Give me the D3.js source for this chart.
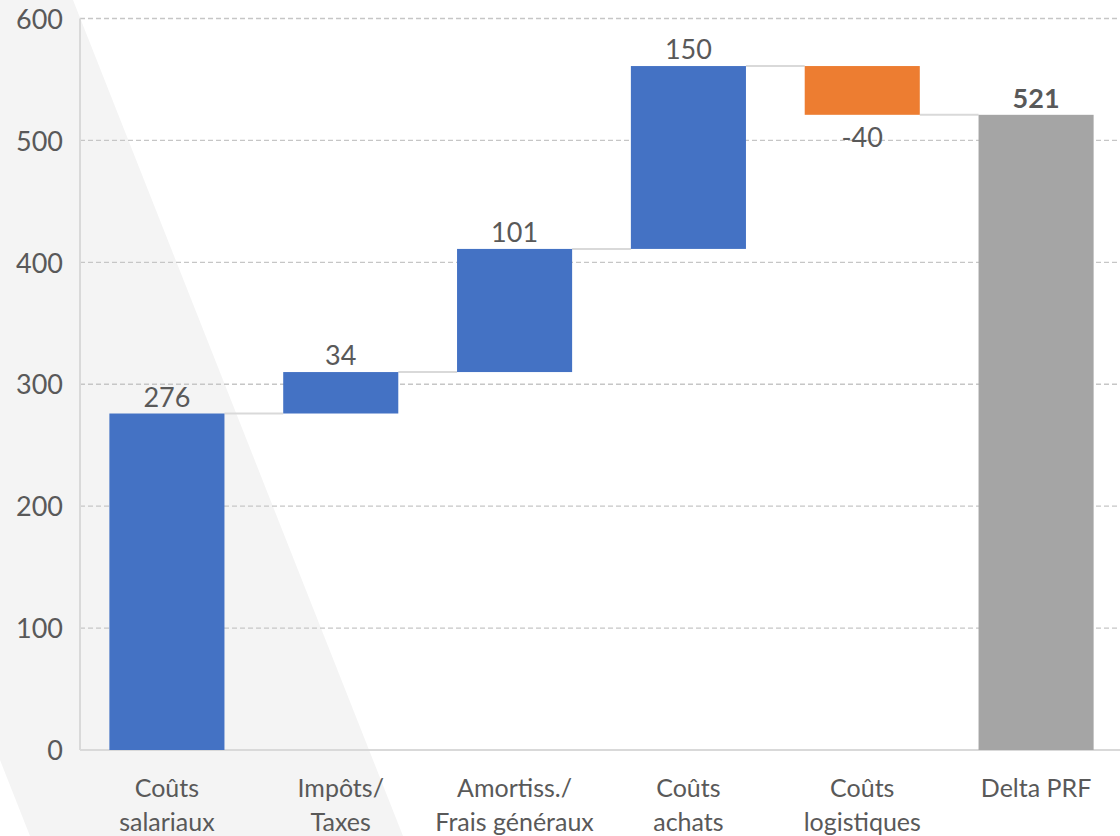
<!DOCTYPE html>
<html><head><meta charset="utf-8">
<script src="https://cdn.jsdelivr.net/npm/d3@7"></script>
<style>html,body{margin:0;padding:0;background:#fff;}svg{display:block;}</style>
</head><body>
<svg id="chart" width="1120" height="836"></svg>
<script>
const categories = ["Coûts\nsalariaux", "Impôts/\nTaxes", "Amortiss./\nFrais généraux", "Coûts\nachats", "Coûts\nlogistiques", "Delta PRF"];
const values = [276, 34, 101, 150, -40, 521];
const kinds = ["delta", "delta", "delta", "delta", "delta", "total"];
const yTicks = [0, 100, 200, 300, 400, 500, 600];

const W = 1120, H = 836;
const svg = d3.select("#chart");
const font = "Lato, 'Open Sans', sans-serif";
const textColor = "#595959";

// background diagonal band
svg.append("polygon")
  .attr("points", [[0,0],[73,0],[403,H],[30,H],[0,760]].map(p => p.join(",")).join(" "))
  .attr("fill", "#f4f4f4");

const x = d3.scaleBand().domain(categories).range([80, 1123]).paddingInner(0.338).paddingOuter(0.169);
const y = d3.scaleLinear().domain([0, 600]).range([750, 18.5]);

// compute waterfall
let run = 0;
const bars = categories.map((c, i) => {
  let start, end;
  if (kinds[i] === "total") { start = 0; end = values[i]; run = values[i]; }
  else { start = run; end = run + values[i]; run = end; }
  return {cat: c, v: values[i], start, end, kind: kinds[i]};
});

// gridlines
const g = svg.append("g");
g.selectAll("line.grid").data(yTicks.filter(t => t > 0)).enter().append("line")
  .attr("x1", 80).attr("x2", W).attr("y1", d => y(d)).attr("y2", d => y(d))
  .attr("stroke", "#c6c6c6").attr("stroke-width", 1.3).attr("stroke-dasharray", "5,3");

// axes lines
svg.append("line").attr("x1", 80).attr("x2", W).attr("y1", y(0)).attr("y2", y(0))
  .attr("stroke", "#d9d9d9").attr("stroke-width", 2);
svg.append("line").attr("x1", 80).attr("x2", 80).attr("y1", y(600)).attr("y2", y(0))
  .attr("stroke", "#d9d9d9").attr("stroke-width", 2);

// y tick labels
const yAxis = d3.axisLeft(y).tickValues(yTicks).tickSize(0).tickPadding(17);
const ya = svg.append("g").attr("transform", "translate(80,0)").call(yAxis);
ya.select(".domain").remove();
ya.selectAll("text").attr("font-family", font).attr("font-size", 27).attr("fill", textColor).attr("dy", "0.36em");

// connectors
for (let i = 0; i < bars.length - 1; i++) {
  const lvl = bars[i].end;
  svg.append("line")
    .attr("x1", x(bars[i].cat) + x.bandwidth()).attr("x2", x(bars[i+1].cat))
    .attr("y1", y(lvl)).attr("y2", y(lvl))
    .attr("stroke", "#d9d9d9").attr("stroke-width", 2);
}

// bars
const colorOf = d => d.kind === "total" ? "#a5a5a5" : (d.v < 0 ? "#ed7d31" : "#4472c4");
svg.selectAll("rect.bar").data(bars).enter().append("rect")
  .attr("x", d => x(d.cat)).attr("width", x.bandwidth())
  .attr("y", d => y(Math.max(d.start, d.end)))
  .attr("height", d => Math.abs(y(d.start) - y(d.end)))
  .attr("fill", colorOf);

// data labels
svg.selectAll("text.val").data(bars).enter().append("text")
  .attr("x", d => x(d.cat) + x.bandwidth() / 2)
  .attr("y", d => d.v < 0 ? y(Math.min(d.start, d.end)) + 32 : y(Math.max(d.start, d.end)) - 7)
  .attr("text-anchor", "middle")
  .attr("font-family", font).attr("font-size", 27)
  .attr("font-weight", d => d.kind === "total" ? "bold" : "normal")
  .attr("fill", textColor)
  .text(d => d.v);

// x labels
const xl = svg.selectAll("text.xl").data(categories).enter().append("text")
  .attr("x", d => x(d) + x.bandwidth() / 2)
  .attr("y", 797)
  .attr("text-anchor", "middle")
  .attr("font-family", font).attr("font-size", 25)
  .attr("fill", textColor);
xl.each(function(d) {
  const lines = d.split("\n");
  const t = d3.select(this);
  lines.forEach((ln, k) => {
    t.append("tspan").attr("x", x(d) + x.bandwidth() / 2).attr("dy", k === 0 ? 0 : 34).text(ln);
  });
});
</script>
</body></html>
